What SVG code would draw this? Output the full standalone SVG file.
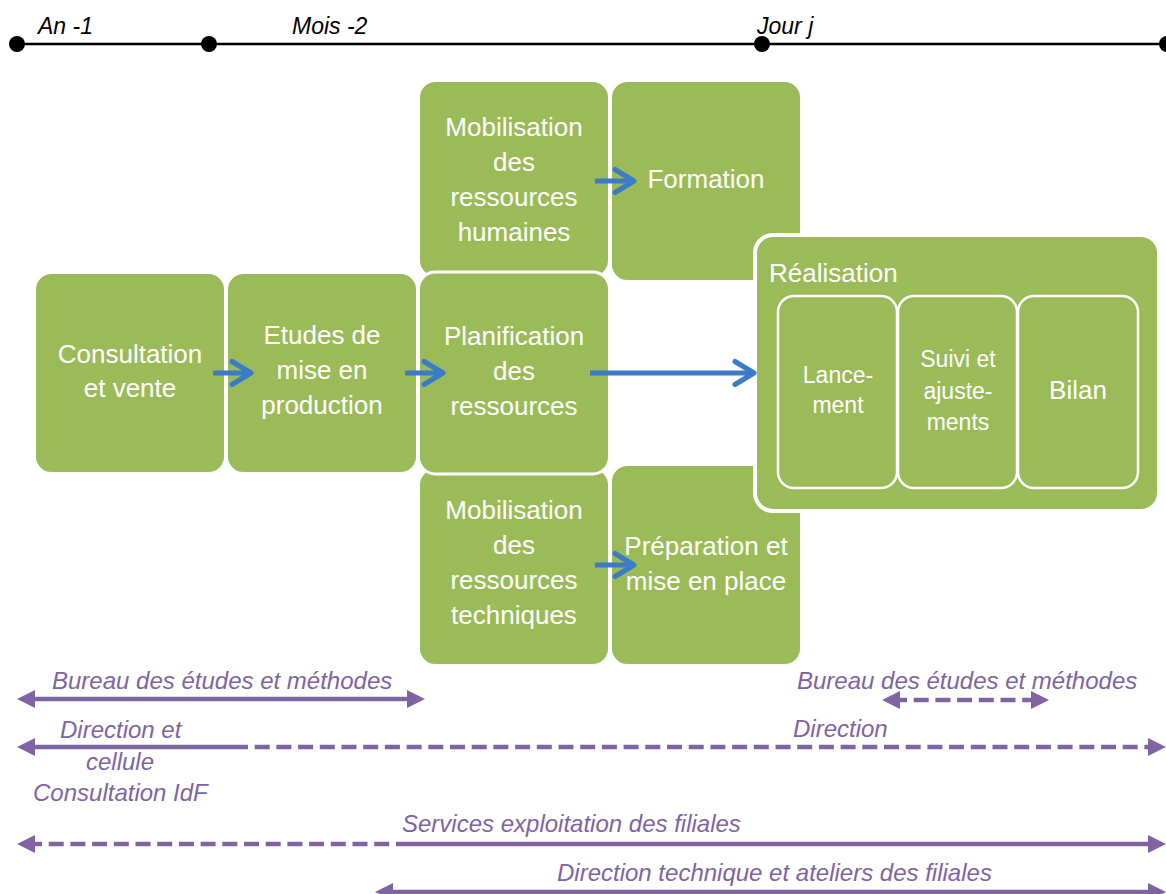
<svg xmlns="http://www.w3.org/2000/svg" width="1166" height="894" viewBox="0 0 1166 894">
  <style>
    .box { fill: #9BBB59; stroke: #FFFFFF; stroke-width: 3; }
    .big { fill: #9BBB59; stroke: #FFFFFF; stroke-width: 4; }
    .t { font-family: "Liberation Sans", Arial, sans-serif; font-size: 26px; fill: #FFFFFF; text-anchor: middle; }
    .ts { font-family: "Liberation Sans", Arial, sans-serif; font-size: 23px; fill: #FFFFFF; text-anchor: middle; }
    .tl { font-family: "Liberation Sans", Arial, sans-serif; font-size: 23px; font-style: italic; fill: #000000; }
    .p { font-family: "Liberation Sans", Arial, sans-serif; font-size: 24px; font-style: italic; fill: #8064A2; }
    .blue { stroke: #3C7BC7; stroke-width: 5; fill: none; marker-end: url(#chev); }
    .pl { stroke: #8064A2; stroke-width: 4.5; fill: none; }
    .dash { stroke-dasharray: 15 6.7; }
  </style>
  <defs>
    <marker id="chev" markerUnits="userSpaceOnUse" viewBox="0 0 24 26" refX="21" refY="13" markerWidth="24" markerHeight="26" orient="auto" overflow="visible">
      <path d="M2,1.5 L21,13 L2,24.5" fill="none" stroke="#3C7BC7" stroke-width="5" stroke-linecap="round" stroke-linejoin="round"/>
    </marker>
    <marker id="tri" markerUnits="userSpaceOnUse" viewBox="0 0 18 18" refX="8" refY="9" markerWidth="18" markerHeight="18" orient="auto-start-reverse" overflow="visible">
      <path d="M0,0 L18,9 L0,18 Z" fill="#8064A2"/>
    </marker>
  </defs>

  <g id="timeline">
    <line x1="17" y1="44" x2="1166" y2="44" stroke="#000000" stroke-width="2.5"/>
    <circle cx="17" cy="44" r="8" fill="#000000"/>
    <circle cx="209" cy="44" r="8" fill="#000000"/>
    <circle cx="762" cy="44" r="8" fill="#000000"/>
    <circle cx="1167" cy="44" r="8" fill="#000000"/>
    <text class="tl" x="38" y="34">An -1</text>
    <text class="tl" x="292" y="34">Mois -2</text>
    <text class="tl" x="757" y="34">Jour j</text>
  </g>

  <g id="node-mob-rh">
    <rect class="box" x="418.5" y="80.5" width="191" height="197" rx="17"/>
    <text class="t" x="514" y="136">Mobilisation</text>
    <text class="t" x="514" y="171">des</text>
    <text class="t" x="514" y="206">ressources</text>
    <text class="t" x="514" y="241">humaines</text>
  </g>
  <g id="node-formation">
    <rect class="box" x="610.5" y="80.5" width="191" height="201" rx="17"/>
    <text class="t" x="706" y="188">Formation</text>
  </g>
  <g id="node-mob-tech">
    <rect class="box" x="418.5" y="468" width="191" height="197.5" rx="17"/>
    <text class="t" x="514" y="519">Mobilisation</text>
    <text class="t" x="514" y="554">des</text>
    <text class="t" x="514" y="589">ressources</text>
    <text class="t" x="514" y="624">techniques</text>
  </g>
  <g id="node-preparation">
    <rect class="box" x="610.5" y="464.5" width="191" height="201" rx="17"/>
    <text class="t" x="706" y="555">Préparation et</text>
    <text class="t" x="706" y="590">mise en place</text>
  </g>
  <g id="node-consultation">
    <rect class="box" x="34.5" y="272.5" width="191" height="201" rx="17"/>
    <text class="t" x="130" y="363">Consultation</text>
    <text class="t" x="130" y="397">et vente</text>
  </g>
  <g id="node-etudes">
    <rect class="box" x="226.5" y="272.5" width="191" height="201" rx="17"/>
    <text class="t" x="322" y="344">Etudes de</text>
    <text class="t" x="322" y="379">mise en</text>
    <text class="t" x="322" y="414">production</text>
  </g>
  <g id="node-planification">
    <rect class="box" x="418.5" y="272" width="191" height="202" rx="17"/>
    <text class="t" x="514" y="345">Planification</text>
    <text class="t" x="514" y="380">des</text>
    <text class="t" x="514" y="415">ressources</text>
  </g>
  <g id="node-realisation">
    <rect class="big" x="755" y="235" width="404" height="276" rx="18"/>
    <text class="t" x="769" y="282" style="text-anchor:start">Réalisation</text>
    <g id="node-lancement">
      <rect class="box" x="778" y="296" width="119" height="192" rx="16" style="stroke-width:2.5"/>
      <text class="ts" x="838" y="383">Lance-</text>
      <text class="ts" x="838" y="413">ment</text>
    </g>
    <g id="node-suivi">
      <rect class="box" x="898" y="296" width="119" height="192" rx="16" style="stroke-width:2.5"/>
      <text class="ts" x="958" y="367">Suivi et</text>
      <text class="ts" x="958" y="399">ajuste-</text>
      <text class="ts" x="958" y="430">ments</text>
    </g>
    <g id="node-bilan">
      <rect class="box" x="1018" y="296" width="120" height="192" rx="16" style="stroke-width:2.5"/>
      <text class="t" x="1078" y="399">Bilan</text>
    </g>
  </g>

  <g id="connectors">
    <line class="blue" x1="213" y1="373" x2="251" y2="373"/>
    <line class="blue" x1="405" y1="373" x2="443" y2="373"/>
    <line class="blue" x1="590" y1="373" x2="754" y2="373"/>
    <line class="blue" x1="595" y1="181" x2="634" y2="181"/>
    <line class="blue" x1="595" y1="565" x2="634" y2="565"/>
  </g>

  <g id="responsibilities">
    <line class="pl" x1="27" y1="699" x2="415" y2="699" marker-start="url(#tri)" marker-end="url(#tri)"/>
    <line class="pl dash" x1="892" y1="700" x2="1039" y2="700" marker-start="url(#tri)" marker-end="url(#tri)"/>
    <line class="pl" x1="27" y1="747" x2="233" y2="747" marker-start="url(#tri)"/>
    <line class="pl dash" x1="233" y1="747" x2="1156" y2="747" marker-end="url(#tri)"/>
    <line class="pl dash" x1="27" y1="844" x2="400" y2="844" marker-start="url(#tri)"/>
    <line class="pl" x1="400" y1="844" x2="1156" y2="844" marker-end="url(#tri)"/>
    <line class="pl" x1="385" y1="892" x2="1156" y2="892" marker-start="url(#tri)" marker-end="url(#tri)"/>
    <text class="p" x="52" y="689">Bureau des études et méthodes</text>
    <text class="p" x="797" y="689">Bureau des études et méthodes</text>
    <text class="p" x="60" y="738">Direction et</text>
    <text class="p" x="86" y="770">cellule</text>
    <text class="p" x="33" y="801">Consultation IdF</text>
    <text class="p" x="793" y="737">Direction</text>
    <text class="p" x="402" y="832">Services exploitation des filiales</text>
    <text class="p" x="557" y="881">Direction technique et ateliers des filiales</text>
  </g>
</svg>
